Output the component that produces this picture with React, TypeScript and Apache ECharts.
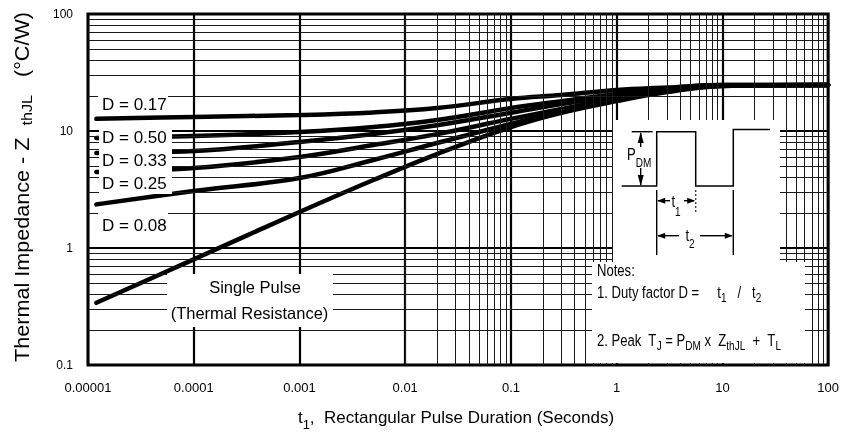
import React, { useEffect, useRef } from 'react';
import * as echarts from 'echarts';

const FONT = "'Liberation Sans', Arial, Helvetica, sans-serif";

// Axis ticks
const xTickValues = [0.00001, 0.0001, 0.001, 0.01, 0.1, 1, 10, 100];
const xTickLabels = ['0.00001', '0.0001', '0.001', '0.01', '0.1', '1', '10', '100'];
const yTickValues = [0.1, 1, 10, 100];
const yTickLabels = ['0.1', '1', '10', '100'];
const minorMultipliers = [2, 3, 4, 5, 6, 7, 8, 9];

// Curves: thermal impedance (°C/W) vs rectangular pulse duration (s)
const pulseDuration = [0.000012, 0.0001, 0.001, 0.005, 0.02, 0.1, 0.3, 1, 3, 10, 100];
const zD050 = [12.7, 13.2, 13.7, 14.4, 15.7, 18.8, 20.3, 22.4, 23.5, 24.7, 24.7];
const zD033 = [8.7, 9.06, 9.8, 10.8, 12.4, 15.7, 18.0, 20.7, 23.1, 24.7, 24.7];
const zD025 = [6.5, 6.74, 8.05, 9.42, 11.2, 14.3, 17.0, 19.9, 22.8, 24.5, 24.7];
const zD017 = [4.47, 4.83, 6.0, 7.59, 9.4, 12.7, 15.4, 19.1, 22.4, 24.5, 24.7];
const zD008 = [2.36, 3.07, 3.96, 5.65, 7.89, 11.5, 14.5, 18.4, 22.0, 24.3, 24.7];
const zSingle = [0.34, 0.8, 2.03, 3.81, 6.35, 10.8, 14.3, 18.0, 21.5, 24.3, 24.7];

const curveNames = ['D = 0.50', 'D = 0.33', 'D = 0.25', 'D = 0.17', 'D = 0.08', 'Single Pulse'];
const curveValues = [zD050, zD033, zD025, zD017, zD008, zSingle];

// Texts drawn in the plot
const dutyLabels = ['D = 0.17', 'D = 0.50', 'D = 0.33', 'D = 0.25', 'D = 0.08'];
const dutyLabelY = [104.5, 137.5, 160, 183, 225];

const black = '#000';

function rect(x: number, y: number, w: number, h: number) {
  return { type: 'rect', z: 100, silent: true, shape: { x, y, width: w, height: h }, style: { fill: '#fff' } };
}
function seg(x1: number, y1: number, x2: number, y2: number, dash?: number[]) {
  return {
    type: 'line', z: 102, silent: true,
    shape: { x1, y1, x2, y2 },
    style: { stroke: dash ? '#444' : black, lineWidth: 1.4, lineDash: dash || null },
  };
}
function tri(pts: number[][]) {
  return { type: 'polygon', z: 102, silent: true, shape: { points: pts }, style: { fill: black } };
}
function plain(x: number, y: number, text: string, fontSize: number, align = 'left') {
  return {
    type: 'text', z: 103, silent: true, x, y,
    style: { text, fontSize, fontFamily: FONT, fill: black, align, verticalAlign: 'middle' },
  };
}
function rich(x: number, y: number, text: string, align: string, fontSize: number, subSize: number, subPad: number, scaleX = 1, rotation = 0) {
  return {
    type: 'text', z: 103, silent: true, x, y, scaleX, rotation,
    style: {
      text, align, verticalAlign: 'middle', fontFamily: FONT, fontSize, fill: black,
      rich: {
        n: { fontSize, fontFamily: FONT, fill: black },
        s: { fontSize: subSize, fontFamily: FONT, fill: black, padding: [subPad, 0, 0, 0] },
      },
    },
  };
}
const arrowL = (x: number, y: number) => tri([[x, y], [x + 8, y - 3], [x + 8, y + 3]]);
const arrowR = (x: number, y: number) => tri([[x, y], [x - 8, y - 3], [x - 8, y + 3]]);
const arrowU = (x: number, y: number) => tri([[x, y], [x - 3, y + 11], [x + 3, y + 11]]);
const arrowD = (x: number, y: number) => tri([[x, y], [x - 3, y - 11], [x + 3, y - 11]]);

const NARROW = 0.77;

export default function App() {
  const ref = useRef<HTMLDivElement>(null);
  useEffect(() => {
    const chart = echarts.init(ref.current!, null, { renderer: 'svg' });

    const xMinor: number[] = [];
    xTickValues.slice(0, -1).forEach((d) => minorMultipliers.forEach((m) => xMinor.push(d * m)));
    const yMinor: number[] = [];
    yTickValues.slice(0, -1).forEach((d) => minorMultipliers.forEach((m) => yMinor.push(d * m)));

    const findLabel = (vals: number[], labels: string[]) => (v: number) => {
      const i = vals.findIndex((t) => Math.abs(Math.log10(t) - Math.log10(v)) < 1e-6);
      return i >= 0 ? labels[i] : '';
    };

    const graphic: any[] = [
      // white label boxes
      rect(98, 96, 70, 17),
      rect(99, 125, 73, 69),
      rect(98, 212, 70, 27),
      rect(167, 274, 166, 53),
      rect(613, 120, 167, 142),
      rect(592, 262, 213, 101),
      // duty labels
      ...dutyLabels.map((t, i) => plain(102, dutyLabelY[i], t, 17)),
      plain(255, 287, 'Single Pulse', 16.5, 'center'),
      plain(249.5, 313, '(Thermal Resistance)', 16.5, 'center'),
      // pulse waveform
      {
        type: 'polyline', z: 102, silent: true,
        shape: { points: [[621.7, 186], [656.7, 186], [656.7, 131.7], [695.7, 131.7], [695.7, 186], [733.3, 186], [733.3, 129.5], [770, 129.5]] },
        style: { stroke: black, lineWidth: 1.5, fill: 'none' },
      },
      // P_DM arrow
      seg(631.7, 131.7, 652.7, 131.7),
      seg(640.7, 133, 640.7, 147),
      seg(640.7, 168, 640.7, 185),
      arrowU(640.7, 132),
      arrowD(640.7, 186),
      rich(627, 153.5, '{n|P}{s|DM}', 'left', 17, 13, 16, NARROW),
      // extension lines
      seg(656.7, 190, 656.7, 255),
      seg(695.7, 190, 695.7, 212, [2, 2]),
      seg(733.3, 190, 733.3, 255),
      // t1 arrow
      seg(658, 200.7, 670, 200.7),
      seg(684, 200.7, 694, 200.7),
      arrowL(657.2, 200.7),
      arrowR(695.2, 200.7),
      rich(676, 201, '{n|t}{s|1}', 'center', 17, 13, 20, NARROW),
      // t2 arrow
      seg(658, 235.7, 679, 235.7),
      seg(700, 235.7, 732, 235.7),
      arrowL(657.2, 235.7),
      arrowR(732.8, 235.7),
      rich(690, 235, '{n|t}{s|2}', 'center', 17, 13, 16, NARROW),
      // notes
      rich(597, 270, '{n|Notes:}', 'left', 17, 13, 0, NARROW),
      rich(597, 291.5, '{n|1. Duty factor D =     t}{s|1}{n|   /   t}{s|2}', 'left', 17, 13, 10, NARROW),
      rich(597, 339.5, '{n|2. Peak  T}{s|J}{n| = P}{s|DM}{n| x  Z}{s|thJL}{n|  +  T}{s|L}', 'left', 17, 13, 11, NARROW),
      // axis titles
      rich(456, 417, '{n|t}{s|1}{n|,  Rectangular Pulse Duration (Seconds)}', 'center', 17, 13, 15),
      rich(22, 187, '{n|Thermal Impedance - Z  }{s|thJL}{n|   (°C/W)}', 'center', 20, 15, 10, 1.08, Math.PI / 2),
    ];

    const option: any = {
      animation: false,
      grid: { left: 88, right: 13, top: 14, bottom: 67, show: true, borderColor: black, borderWidth: 3, backgroundColor: 'transparent' },
      xAxis: {
        type: 'log', logBase: 10, min: 0.00001, max: 100,
        axisLine: { show: false }, axisTick: { show: false },
        splitLine: { show: true, lineStyle: { color: black, width: 2.2 } },
        axisLabel: {
          margin: 16, fontSize: 13, fontFamily: FONT, color: black,
          showMinLabel: true, showMaxLabel: true, hideOverlap: false,
          formatter: findLabel(xTickValues, xTickLabels),
        },
      },
      yAxis: {
        type: 'log', logBase: 10, min: 0.1, max: 100,
        axisLine: { show: false }, axisTick: { show: false },
        splitLine: { show: true, lineStyle: { color: black, width: 2.2 } },
        axisLabel: {
          margin: 15, fontSize: 12, fontFamily: FONT, color: black,
          showMinLabel: true, showMaxLabel: true, hideOverlap: false,
          formatter: findLabel(yTickValues, yTickLabels),
        },
      },
      series: [
        {
          type: 'line', name: 'minor grid', z: 1, silent: true,
          data: [], showSymbol: false,
          markLine: {
            silent: true, symbol: ['none', 'none'], label: { show: false },
            lineStyle: { color: '#1a1a1a', width: 1, type: 'solid' },
            emphasis: { disabled: true },
            data: [...xMinor.map((v) => ({ xAxis: v })), ...yMinor.map((v) => ({ yAxis: v }))],
          },
        },
        ...curveValues.map((vals, i) => ({
          type: 'line', name: curveNames[i], z: 3, silent: true,
          data: pulseDuration.map((t, j) => [t, vals[j]]),
          smooth: 0.4, symbol: 'none',
          lineStyle: { color: black, width: 4.5, cap: 'round' },
        })),
      ],
      graphic,
    };
    chart.setOption(option);
    return () => chart.dispose();
  }, []);
  return <div ref={ref} style={{ position: 'fixed', left: 0, top: 0, width: 842, height: 432 }} />;
}
